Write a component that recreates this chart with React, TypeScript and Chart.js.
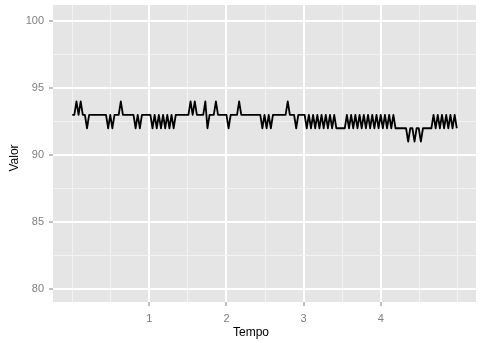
import React, { useEffect, useRef } from "react";
import { Chart, registerables } from "chart.js";

Chart.register(...registerables);

// Values, one per sample
const VALOR: number[] = [
  93, 93, 94, 93, 94, 93, 93, 92, 93, 93,
  93, 93, 93, 93, 93, 93, 93, 92, 93, 92,
  93, 93, 93, 94, 93, 93, 93, 93, 93, 93,
  92, 93, 92, 93, 93, 93, 93, 93, 92, 93,
  92, 93, 92, 93, 92, 93, 92, 93, 92, 93,
  93, 93, 93, 93, 93, 93, 94, 93, 94, 93,
  93, 93, 93, 94, 92, 93, 93, 93, 94, 93,
  93, 93, 93, 93, 92, 93, 93, 93, 93, 94,
  93, 93, 93, 93, 93, 93, 93, 93, 93, 93,
  92, 93, 92, 93, 92, 93, 93, 93, 93, 93,
  93, 93, 94, 93, 93, 93, 92, 93, 93, 93,
  93, 92, 93, 92, 93, 92, 93, 92, 93, 92,
  93, 92, 93, 92, 93, 92, 92, 92, 92, 92,
  93, 92, 93, 92, 93, 92, 93, 92, 93, 92,
  93, 92, 93, 92, 93, 92, 93, 92, 93, 92,
  93, 92, 93, 92, 92, 92, 92, 92, 92, 91,
  92, 92, 91, 92, 92, 91, 92, 92, 92, 92,
  92, 93, 92, 93, 92, 93, 92, 93, 92, 93,
  92, 93, 92,
];

// samples per unit of "Tempo"
const SAMPLE_RATE = 36.5;

const X_MAJOR_TICKS = [1, 2, 3, 4];
const Y_MAJOR_TICKS = [80, 85, 90, 95, 100];
const Y_MIN = 79.03;
const Y_MAX = 101.2;

const X_TITLE = "Tempo";
const Y_TITLE = "Valor";

const FONT = "'Liberation Sans', Arial, Helvetica, sans-serif";

export default function App() {
  const ref = useRef<HTMLCanvasElement>(null);

  useEffect(() => {
    document.body.style.margin = "0";
    const canvas = ref.current;
    if (!canvas) return;

    const tempo = VALOR.map((_, i) => i / SAMPLE_RATE);
    const points = VALOR.map((v, i) => ({ x: tempo[i], y: v }));
    const xLo = tempo[0];
    const xHi = tempo[tempo.length - 1];
    const xPad = (xHi - xLo) * 0.05;

    const isMajor = (list: number[], v: number) =>
      list.some((m) => Math.abs(m - v) < 1e-9);

    const bgPlugin = {
      id: "ggbg",
      beforeDraw(chart: any) {
        const { ctx, chartArea: a } = chart;
        ctx.save();
        ctx.fillStyle = "#FFFFFF";
        ctx.fillRect(0, 0, chart.width, chart.height);
        ctx.fillStyle = "#E5E5E5";
        ctx.fillRect(a.left, a.top, a.right - a.left, a.bottom - a.top);
        ctx.restore();
      },
      afterDraw(chart: any) {
        const { ctx } = chart;
        ctx.save();
        ctx.fillStyle = "#000000";
        ctx.font = `12px ${FONT}`;
        ctx.textAlign = "center";
        ctx.textBaseline = "middle";
        ctx.fillText(X_TITLE, 251, 333);
        ctx.translate(15, 158);
        ctx.rotate(-Math.PI / 2);
        ctx.fillText(Y_TITLE, 0, 0);
        ctx.restore();
      },
    };

    const chart = new Chart(canvas, {
      type: "line",
      data: {
        datasets: [
          {
            data: points,
            borderColor: "#000000",
            borderWidth: 1.8,
            pointRadius: 0,
            tension: 0,
            borderJoinStyle: "round",
            fill: false,
          },
        ],
      },
      options: {
        animation: false,
        responsive: false,
        events: [],
        layout: { padding: { top: 5, right: 5, left: 0, bottom: 0 } },
        plugins: {
          legend: { display: false },
          tooltip: { enabled: false },
          title: { display: false },
        },
        scales: {
          x: {
            type: "linear",
            min: xLo - xPad,
            max: xHi + xPad,
            border: { display: false },
            afterFit(scale: any) {
              scale.height = 41;
              scale.paddingLeft = 0;
              scale.paddingRight = 0;
            },
            grid: {
              drawTicks: true,
              tickLength: 4,
              tickWidth: 1,
              color: (c: any) =>
                isMajor(X_MAJOR_TICKS, c.tick?.value) ? "#FFFFFF" : "#F2F2F2",
              lineWidth: (c: any) =>
                isMajor(X_MAJOR_TICKS, c.tick?.value) ? 2 : 1,
              tickColor: (c: any) =>
                isMajor(X_MAJOR_TICKS, c.tick?.value) ? "#7F7F7F" : "rgba(0,0,0,0)",
            },
            ticks: {
              stepSize: 0.5,
              includeBounds: false,
              autoSkip: false,
              maxRotation: 0,
              padding: 6,
              color: "#7F7F7F",
              font: { family: FONT, size: 11 },
              callback: (v: any) =>
                isMajor(X_MAJOR_TICKS, Number(v)) ? String(v) : "",
            },
          },
          y: {
            type: "linear",
            min: Y_MIN,
            max: Y_MAX,
            border: { display: false },
            afterFit(scale: any) {
              scale.width = 53;
              scale.paddingTop = 0;
              scale.paddingBottom = 0;
            },
            grid: {
              drawTicks: true,
              tickLength: 4,
              tickWidth: 1,
              color: (c: any) =>
                isMajor(Y_MAJOR_TICKS, c.tick?.value) ? "#FFFFFF" : "#F2F2F2",
              lineWidth: (c: any) =>
                isMajor(Y_MAJOR_TICKS, c.tick?.value) ? 2 : 1,
              tickColor: (c: any) =>
                isMajor(Y_MAJOR_TICKS, c.tick?.value) ? "#7F7F7F" : "rgba(0,0,0,0)",
            },
            ticks: {
              stepSize: 2.5,
              includeBounds: false,
              autoSkip: false,
              padding: 5,
              color: "#7F7F7F",
              font: { family: FONT, size: 11 },
              callback: (v: any) =>
                isMajor(Y_MAJOR_TICKS, Number(v)) ? String(v) : "",
            },
          },
        },
      },
      plugins: [bgPlugin],
    } as any);

    return () => chart.destroy();
  }, []);

  return (
    <div style={{ position: "absolute", left: 0, top: 0, width: 481, height: 343 }}>
      <canvas ref={ref} width={481} height={343} style={{ display: "block" }} />
    </div>
  );
}
